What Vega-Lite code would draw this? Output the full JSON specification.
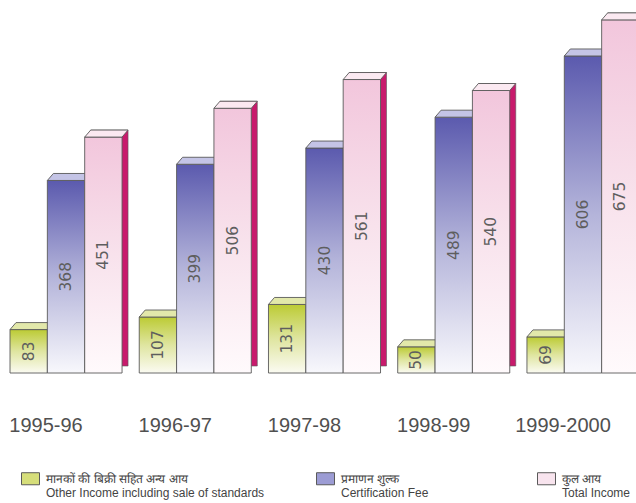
{
  "$schema": "https://vega.github.io/schema/vega-lite/v6.json",
  "width": 636,
  "height": 373,
  "autosize": {"type": "none"},
  "padding": {"left": 0, "top": 0, "right": 0, "bottom": 130},
  "background": "white",
  "config": {"view": {"stroke": null}},
  "data": {
    "values": [
      {"year": "1995-96", "series": "Other Income including sale of standards", "value": 83},
      {"year": "1995-96", "series": "Certification Fee", "value": 368},
      {"year": "1995-96", "series": "Total Income", "value": 451},
      {"year": "1996-97", "series": "Other Income including sale of standards", "value": 107},
      {"year": "1996-97", "series": "Certification Fee", "value": 399},
      {"year": "1996-97", "series": "Total Income", "value": 506},
      {"year": "1997-98", "series": "Other Income including sale of standards", "value": 131},
      {"year": "1997-98", "series": "Certification Fee", "value": 430},
      {"year": "1997-98", "series": "Total Income", "value": 561},
      {"year": "1998-99", "series": "Other Income including sale of standards", "value": 50},
      {"year": "1998-99", "series": "Certification Fee", "value": 489},
      {"year": "1998-99", "series": "Total Income", "value": 540},
      {"year": "1999-2000", "series": "Other Income including sale of standards", "value": 69},
      {"year": "1999-2000", "series": "Certification Fee", "value": 606},
      {"year": "1999-2000", "series": "Total Income", "value": 675}
    ]
  },
  "encoding": {
    "x": {
      "field": "year",
      "type": "nominal",
      "sort": null,
      "title": null,
      "scale": {"range": [10, 639], "paddingInner": 0.133, "paddingOuter": 0},
      "axis": {
        "domain": false,
        "ticks": false,
        "labelAngle": 0,
        "labelFont": "Liberation Sans",
        "labelFontSize": 20,
        "labelColor": "#505050",
        "labelPadding": 42,
        "labelOffset": -20
      }
    },
    "y": {
      "field": "value",
      "type": "quantitative",
      "scale": {"domain": [0, 713]},
      "axis": null
    }
  },
  "layer": [
    {
      "transform": [{"filter": "datum.series === 'Other Income including sale of standards'"}],
      "mark": {
        "type": "bar",
        "stroke": "#5a5a5a",
        "strokeWidth": 0.9,
        "fill": {
          "gradient": "linear", "x1": 0, "y1": 0, "x2": 0, "y2": 1,
          "stops": [
            {"offset": 0, "color": "#bccb34"},
            {"offset": 0.5, "color": "#dfe5a0"},
            {"offset": 1, "color": "#fbfbf2"}
          ]
        }
      },
      "encoding": {
        "xOffset": {
          "field": "series", "type": "nominal",
          "scale": {"domain": ["Other Income including sale of standards", "Certification Fee", "Total Income"], "paddingInner": 0, "paddingOuter": 0}
        }
      }
    },
    {
      "transform": [{"filter": "datum.series === 'Other Income including sale of standards'"}],
      "mark": {
        "type": "point",
        "filled": true,
        "opacity": 1,
        "size": 2500,
        "shape": "M-0.747,0 L0.747,0 L0.987,-0.28 L-0.507,-0.28 Z",
        "fill": "#e2e8aa",
        "stroke": "#5a5a5a",
        "strokeWidth": 0.9
      },
      "encoding": {
        "xOffset": {"field": "series", "type": "nominal"}
      }
    },
    {
      "transform": [{"filter": "datum.series === 'Certification Fee'"}],
      "mark": {
        "type": "bar",
        "stroke": "#5a5a5a",
        "strokeWidth": 0.9,
        "fill": {
          "gradient": "linear", "x1": 0, "y1": 0, "x2": 0, "y2": 1,
          "stops": [
            {"offset": 0, "color": "#5b5aae"},
            {"offset": 0.5, "color": "#b4b4da"},
            {"offset": 1, "color": "#f8f8fc"}
          ]
        }
      },
      "encoding": {
        "xOffset": {"field": "series", "type": "nominal"}
      }
    },
    {
      "transform": [{"filter": "datum.series === 'Certification Fee'"}],
      "mark": {
        "type": "point",
        "filled": true,
        "opacity": 1,
        "size": 2500,
        "shape": "M-0.747,0 L0.747,0 L0.987,-0.28 L-0.507,-0.28 Z",
        "fill": "#c4c4e6",
        "stroke": "#5a5a5a",
        "strokeWidth": 0.9
      },
      "encoding": {
        "xOffset": {"field": "series", "type": "nominal"}
      }
    },
    {
      "description": "Back copy of the total bars, shifted right and up, so its right strip reads as the side face",
      "transform": [{"filter": "datum.series === 'Total Income'"}],
      "mark": {
        "type": "bar",
        "width": 37.35,
        "xOffset": 43.35,
        "fill": "#c81a6c",
        "stroke": "#5a5a5a",
        "strokeWidth": 0.6
      },
      "encoding": {
        "y": {
          "field": "value",
          "type": "quantitative",
          "scale": {"domain": [0, 713], "range": [366, -7]},
          "axis": null
        }
      }
    },
    {
      "transform": [{"filter": "datum.series === 'Total Income'"}],
      "mark": {
        "type": "bar",
        "stroke": "#5a5a5a",
        "strokeWidth": 0.9,
        "fill": {
          "gradient": "linear", "x1": 0, "y1": 0, "x2": 0, "y2": 1,
          "stops": [
            {"offset": 0, "color": "#f2c6dc"},
            {"offset": 0.5, "color": "#f8e2ec"},
            {"offset": 1, "color": "#fffafc"}
          ]
        }
      },
      "encoding": {
        "xOffset": {"field": "series", "type": "nominal"}
      }
    },
    {
      "transform": [{"filter": "datum.series === 'Total Income'"}],
      "mark": {
        "type": "point",
        "filled": true,
        "opacity": 1,
        "size": 2500,
        "shape": "M-0.747,0 L0.747,0 L0.987,-0.28 L-0.507,-0.28 Z",
        "fill": "#fbe9f1",
        "stroke": "#5a5a5a",
        "strokeWidth": 0.9
      },
      "encoding": {
        "xOffset": {"field": "series", "type": "nominal"}
      }
    },
    {
      "mark": {
        "type": "text",
        "angle": 270,
        "align": "center",
        "baseline": "middle",
        "font": "DejaVu Sans",
        "fontSize": 15.5,
        "fill": "#5e5e5e"
      },
      "encoding": {
        "xOffset": {"field": "series", "type": "nominal"},
        "text": {"field": "value", "type": "quantitative"},
        "y": {
          "field": "value",
          "type": "quantitative",
          "scale": {"domain": [0, 1426]},
          "axis": null
        }
      }
    },
    {
      "mark": {"type": "bar", "opacity": 0},
      "encoding": {
        "xOffset": {"field": "series", "type": "nominal"},
        "color": {
          "field": "series",
          "type": "nominal",
          "scale": {
            "domain": ["Other Income including sale of standards", "Certification Fee", "Total Income"],
            "range": ["#d6de7a", "#9c9cd4", "#f8e4ee"]
          },
          "legend": {
            "orient": "none",
            "legendX": 21,
            "legendY": 469,
            "direction": "horizontal",
            "title": null,
            "symbolType": "M-1,-0.67 H1 V0.67 H-1 Z",
            "symbolSize": 324,
            "symbolOpacity": 1,
            "symbolStrokeColor": "#5a5a5a",
            "symbolStrokeWidth": 1,
            "labelFont": "Liberation Sans",
            "labelFontSize": 12,
            "labelColor": "#444444",
            "labelLineHeight": 17,
            "labelLimit": 400,
            "labelOffset": 6,
            "columnPadding": 49,
            "labelExpr": "datum.label === 'Total Income' ? ['कुल आय', 'Total Income'] : datum.label === 'Certification Fee' ? ['प्रमाणन शुल्क', 'Certification Fee\u00a0\u00a0\u00a0\u00a0\u00a0\u00a0\u00a0\u00a0\u00a0\u00a0\u00a0\u00a0\u00a0\u00a0\u00a0\u00a0\u00a0\u200b'] : ['मानकों की बिक्री सहित अन्य आय', 'Other Income including sale of standards']"
          }
        }
      }
    }
  ],
  "resolve": {"scale": {"y": "independent"}}
}
